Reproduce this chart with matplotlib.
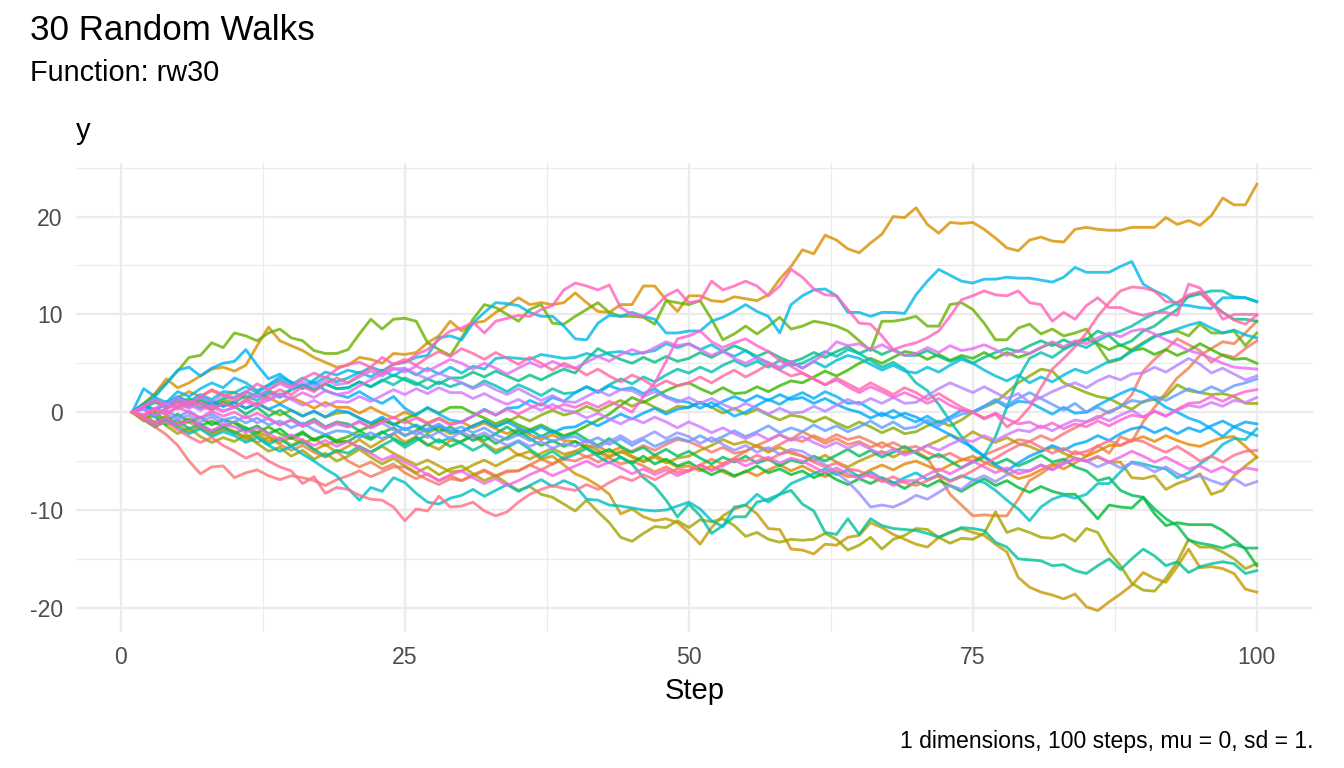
import numpy as np
import matplotlib
matplotlib.use("Agg")
import matplotlib.pyplot as plt

# ---------------- data ----------------
steps = list(range(1, 101))

walk_01 = [0, -0.8, -1.5, -2.3, -3.4, -5.0, -6.3, -5.6, -5.5, -6.7,
           -6.2, -5.9, -6.5, -6.9, -6.5, -6.7, -7.0, -7.5, -6.9, -6.5,
           -6.0, -6.6, -6.1, -5.6, -5.6, -6.3, -6.9, -7.4, -6.8, -7.0,
           -6.5, -6.0, -6.6, -6.1, -6.0, -5.4, -5.9, -5.3, -4.8, -5.0,
           -4.5, -5.1, -4.6, -4.1, -4.0, -3.4, -3.9, -3.3, -2.8, -3.0,
           -3.5, -4.1, -3.6, -4.2, -4.0, -3.4, -3.9, -3.3, -2.7, -3.0,
           -2.4, -2.9, -2.3, -2.8, -2.5, -3.0, -3.6, -3.1, -3.7, -3.5,
           -4.1, -4.6, -4.2, -4.8, -5.0, -4.4, -3.9, -3.4, -2.8, -3.0,
           -2.4, -2.9, -2.2, -1.6, -1.0, -0.6, 0.1, 0.5, 1.8, 4.2,
           5.4, 6.4, 7.5, 6.9, 6.3, 5.1, 5.9, 5.6, 6.5, 7.3]
walk_02 = [0, -0.5, -1.2, -0.7, -1.4, -1.0, -1.7, -2.2, -1.6, -2.0,
           -2.6, -3.1, -2.6, -3.3, -3.9, -3.4, -4.1, -4.6, -4.0, -5.0,
           -5.6, -5.1, -5.8, -5.3, -6.2, -6.8, -6.3, -7.0, -6.5, -7.0,
           -6.4, -5.9, -6.5, -6.0, -6.0, -5.4, -4.8, -5.3, -4.6, -4.0,
           -4.6, -4.1, -4.7, -5.3, -5.0, -5.5, -6.1, -5.6, -6.2, -6.0,
           -5.4, -4.8, -5.3, -4.7, -4.0, -3.4, -2.9, -2.3, -2.8, -2.0,
           -2.6, -3.2, -2.7, -3.3, -3.0, -3.6, -3.1, -3.7, -4.2, -4.0,
           -4.7, -6.5, -8.4, -9.5, -10.6, -10.5, -10.6, -10.6, -8.9, -7.0,
           -6.3, -5.5, -5.0, -4.0, -4.5, -3.4, -4.2, -2.5, -3.0, -1.0,
           0.5, 2.0, 3.5, 4.5, 5.8, 6.5, 7.2, 7.0, 8.1, 9.3]
walk_03 = [0, 0.6, 1.3, 0.8, 1.5, 2.1, 1.6, 2.2, 1.7, 2.0,
           1.4, 2.0, 1.5, 0.9, 1.5, 1.0, 0.4, 1.0, 0.5, 0.5,
           -0.1, 0.5, -0.1, -0.6, 0.0, -0.5, -1.1, -0.6, -1.2, -1.0,
           -1.6, -1.1, -1.7, -2.2, -1.7, -2.3, -2.8, -2.3, -2.9, -3.0,
           -3.5, -3.5, -4.1, -3.6, -4.5, -5.0, -4.4, -5.0, -5.6, -5.5,
           -6.0, -5.5, -6.1, -6.6, -6.0, -6.5, -5.9, -5.4, -6.0, -5.5,
           -6.1, -6.6, -6.0, -6.6, -6.5, -5.9, -5.4, -5.9, -5.3, -5.0,
           -5.5, -6.0, -5.4, -4.9, -4.5, -5.1, -5.6, -6.2, -6.8, -6.5,
           -5.9, -5.3, -5.8, -5.2, -4.5, -4.0, -3.4, -3.4, -2.9, -2.5,
           -3.0, -2.4, -2.9, -3.3, -3.5, -3.0, -2.6, -2.5, -3.5, -4.6]
walk_04 = [0, 0.8, 1.9, 3.4, 2.5, 3.0, 3.7, 4.4, 4.6, 4.2,
           4.8, 6.8, 8.7, 7.3, 6.8, 6.3, 5.6, 5.1, 4.6, 4.8,
           5.6, 5.4, 5.0, 6.0, 5.9, 6.1, 7.1, 7.8, 9.3, 8.3,
           9.1, 9.3, 10.2, 10.9, 11.7, 11.0, 11.2, 11.0, 11.2, 12.2,
           11.2, 10.3, 10.2, 11.0, 11.0, 12.9, 12.9, 11.5, 10.3, 11.9,
           11.9, 11.4, 11.3, 11.8, 11.6, 11.4, 12.0, 13.6, 14.9, 16.6,
           16.2, 18.1, 17.6, 16.7, 16.3, 17.3, 18.2, 20.0, 19.9, 20.9,
           19.2, 18.3, 19.4, 19.3, 19.4, 18.7, 17.8, 16.8, 16.5, 17.6,
           17.9, 17.5, 17.4, 18.7, 18.9, 18.7, 18.6, 18.6, 18.9, 18.9,
           18.9, 19.9, 19.2, 19.6, 19.1, 20.1, 21.9, 21.2, 21.2, 23.3]
walk_05 = [0, -0.6, -1.1, -0.4, -1.3, -2.0, -1.5, -2.3, -1.8, -2.0,
           -2.9, -2.2, -3.0, -2.6, -3.4, -2.8, -3.9, -3.3, -4.1, -3.5,
           -2.8, -3.6, -2.9, -2.2, -3.1, -2.5, -3.3, -3.8, -2.9, -3.0,
           -2.4, -3.2, -3.9, -3.5, -4.4, -4.0, -4.8, -4.5, -5.4, -6.3,
           -6.8, -7.5, -8.4, -10.4, -9.9, -10.7, -11.1, -10.9, -11.3, -12.3,
           -13.5, -11.8, -10.6, -9.9, -9.5, -10.4, -11.9, -12.0, -14.0, -14.1,
           -14.5, -13.5, -13.6, -12.8, -12.6, -11.3, -11.8, -12.5, -13.0, -13.5,
           -13.8, -12.8, -12.3, -11.9, -12.3, -12.6, -13.5, -14.3, -16.9, -17.9,
           -18.4, -18.7, -19.1, -18.6, -19.9, -20.3, -19.4, -18.6, -17.7, -16.4,
           -17.0, -17.4, -15.8, -14.0, -15.9, -15.8, -16.0, -16.5, -18.1, -18.4]
walk_06 = [0, -0.4, -1.0, -0.5, -1.2, -0.7, -1.3, -1.9, -1.5, -2.0,
           -2.6, -2.0, -2.5, -3.1, -2.6, -3.2, -2.7, -3.4, -2.9, -3.0,
           -3.6, -4.1, -3.5, -4.2, -4.8, -5.4, -4.9, -5.5, -6.1, -6.0,
           -5.4, -4.9, -5.5, -4.9, -4.3, -4.8, -4.2, -3.7, -4.3, -4.0,
           -3.4, -3.9, -4.5, -4.0, -4.6, -5.1, -4.6, -5.2, -4.7, -4.5,
           -3.9, -3.4, -2.8, -3.3, -3.0, -3.5, -4.1, -3.6, -4.2, -4.5,
           -5.0, -4.4, -5.1, -5.6, -5.0, -4.5, -4.0, -4.6, -4.0, -4.0,
           -3.4, -2.9, -2.3, -2.8, -2.0, -2.6, -3.1, -2.6, -3.2, -3.5,
           -4.0, -3.6, -4.2, -4.7, -5.0, -4.6, -5.1, -5.1, -6.7, -6.8,
           -6.5, -7.9, -7.3, -6.9, -6.3, -8.4, -8.0, -6.5, -5.5, -4.6]
walk_07 = [0, -0.9, -0.3, -1.4, -2.2, -1.6, -2.5, -3.1, -2.6, -3.0,
           -2.3, -3.2, -4.0, -3.6, -4.5, -3.9, -4.8, -4.2, -5.0, -4.5,
           -3.8, -4.6, -5.3, -4.7, -5.5, -6.2, -5.6, -6.4, -5.8, -5.5,
           -6.3, -7.0, -6.5, -7.3, -8.0, -7.6, -8.4, -8.7, -9.4, -10.1,
           -9.0, -10.2, -11.3, -12.8, -13.2, -12.4, -11.7, -11.8, -11.1, -11.8,
           -11.0, -11.2, -10.9, -11.6, -12.7, -12.3, -13.0, -13.3, -13.0, -13.1,
           -13.0, -12.4, -13.0, -14.1, -13.6, -12.8, -14.0, -13.0, -12.6, -11.9,
           -12.0, -12.8, -13.4, -12.9, -13.0, -12.4, -10.2, -12.3, -11.9, -12.3,
           -12.8, -12.9, -12.5, -13.2, -11.9, -12.3, -14.3, -15.7, -17.5, -18.2,
           -18.3, -17.0, -15.3, -13.0, -13.8, -13.8, -14.3, -15.0, -16.0, -15.5]
walk_08 = [0, 0.5, -0.2, 0.4, 1.0, 0.5, 1.1, 0.6, 1.2, 1.0,
           0.4, 0.9, 0.3, -0.3, 0.2, -0.4, 0.1, -0.5, -0.1, 0.0,
           -0.6, -1.2, -0.7, -1.3, -0.8, -1.5, -2.1, -1.6, -2.2, -2.0,
           -1.4, -0.9, -1.5, -1.0, -0.4, -0.9, -0.3, 0.2, -0.3, 0.0,
           0.6, 0.1, 0.7, 1.2, 0.6, 1.1, 0.5, 0.0, 0.6, 0.5,
           1.0, 0.5, -0.1, 0.4, -0.2, 0.3, -0.3, -0.8, -0.3, -0.5,
           -1.0, -0.5, -1.1, -1.6, -1.0, -1.5, -2.1, -1.6, -2.2, -2.0,
           -1.4, -0.9, -1.4, -0.8, 0.0, 0.5, 1.0, 2.0, 3.0, 3.7,
           4.4, 4.2, 3.0, 2.5, 2.0, 1.6, 1.4, 0.8, 0.3, 1.1,
           1.3, 1.6, 2.8, 2.2, 2.0, 1.8, 1.9, 1.6, 0.9, 0.9]
walk_09 = [0, 0.9, 1.8, 3.0, 4.2, 5.6, 5.8, 7.1, 6.6, 8.1,
           7.8, 7.3, 8.1, 8.5, 7.6, 7.3, 6.3, 6.0, 6.0, 6.4,
           8.0, 9.5, 8.5, 9.5, 9.6, 9.3, 7.1, 6.4, 5.8, 7.6,
           9.5, 11.0, 10.7, 10.0, 9.3, 10.5, 11.0, 9.1, 9.0, 9.8,
           10.5, 11.2, 10.2, 9.8, 9.8, 9.7, 9.0, 11.4, 11.2, 11.0,
           11.4, 9.5, 7.4, 8.0, 8.8, 8.0, 8.8, 9.7, 8.5, 8.8,
           9.3, 9.1, 8.8, 8.3, 7.3, 6.3, 9.3, 9.3, 9.5, 9.8,
           8.8, 8.8, 11.0, 11.2, 10.5, 9.1, 7.4, 7.4, 8.6, 9.0,
           8.0, 8.5, 7.8, 8.1, 8.5, 6.8, 5.1, 5.4, 6.4, 7.1,
           7.8, 8.1, 8.3, 7.8, 9.0, 8.1, 8.1, 8.3, 6.8, 8.1]
walk_10 = [0, -0.6, -0.1, -0.8, -1.3, -0.7, -1.4, -0.9, -1.5, -1.0,
           -1.6, -2.1, -1.5, -2.2, -2.7, -2.2, -2.8, -2.3, -2.9, -2.5,
           -1.9, -1.4, -0.8, -1.3, -0.7, -0.2, 0.4, -0.1, 0.5, 0.5,
           -0.1, -0.6, -1.2, -0.7, -1.3, -1.8, -1.3, -1.9, -2.4, -2.0,
           -1.4, -0.8, -0.2, 0.7, 1.5, 1.0, 1.6, 2.2, 2.7, 3.0,
           2.4, 1.9, 2.5, 1.9, 2.0, 2.6, 2.1, 2.7, 3.2, 3.0,
           3.6, 4.2, 3.7, 4.3, 5.0, 5.5, 5.0, 5.6, 6.2, 6.0,
           5.4, 5.9, 5.3, 5.8, 5.5, 6.1, 5.5, 6.1, 5.6, 6.0,
           6.6, 7.1, 6.5, 7.2, 7.5, 7.0, 6.4, 6.9, 6.3, 6.5,
           5.9, 6.4, 5.8, 6.3, 7.0, 6.4, 5.8, 5.4, 5.5, 5.0]
walk_11 = [0, -0.7, -1.5, -0.9, -0.2, -1.0, -0.5, -1.3, -0.8, -1.1,
           -1.9, -1.4, -2.2, -1.7, -2.6, -2.0, -2.9, -2.4, -3.1, -3.0,
           -2.3, -2.8, -2.1, -1.6, -2.4, -1.9, -1.2, -2.0, -1.5, -2.2,
           -2.9, -2.4, -3.2, -2.6, -1.9, -2.7, -3.4, -2.9, -3.5, -3.0,
           -3.7, -4.3, -3.8, -4.6, -5.2, -4.5, -5.3, -4.8, -5.5, -5.1,
           -5.8, -6.4, -5.9, -6.5, -6.1, -5.5, -6.2, -5.8, -6.4, -6.0,
           -6.7, -6.2, -6.9, -7.4, -6.8, -7.3, -6.7, -7.2, -7.8, -7.1,
           -7.6, -7.0, -7.5, -8.1, -7.4, -6.8, -7.5, -7.0, -7.7, -8.2,
           -7.6, -8.1, -8.4, -8.4, -9.6, -10.9, -9.5, -9.7, -9.8, -8.7,
           -10.4, -11.6, -11.3, -11.5, -11.5, -11.5, -12.1, -13.0, -14.0, -15.7]
walk_12 = [0, 0.8, 0.2, 1.1, 0.5, 1.4, 0.9, 0.3, 1.0, 0.6,
           -0.2, 0.5, -0.4, 0.2, -0.6, -1.3, -0.7, -1.5, -1.0, -1.2,
           -1.9, -2.6, -2.0, -2.7, -3.3, -2.6, -3.4, -2.8, -3.5, -3.0,
           -2.3, -2.9, -2.2, -1.5, -2.3, -1.8, -2.5, -1.9, -2.6, -2.1,
           -2.8, -3.4, -2.7, -3.5, -4.1, -3.6, -4.4, -3.8, -4.5, -4.0,
           -4.7, -5.3, -4.6, -5.1, -4.5, -5.2, -4.8, -5.5, -4.9, -5.2,
           -4.5, -5.0, -4.4, -3.8, -4.5, -3.9, -4.6, -4.1, -3.5, -4.2,
           -4.8, -4.3, -5.0, -5.7, -5.1, -4.6, -5.3, -4.8, -5.5, -5.0,
           -4.4, -5.1, -4.8, -5.6, -6.0, -7.0, -6.7, -8.0, -8.5, -8.7,
           -9.9, -10.9, -11.6, -13.1, -13.4, -13.6, -13.9, -13.5, -13.9, -13.9]
walk_13 = [0, 0.4, 1.0, 0.5, 1.2, 0.7, 1.3, 0.8, 1.4, 1.5,
           2.1, 1.6, 2.2, 1.7, 2.3, 2.8, 2.3, 2.9, 2.4, 2.5,
           3.1, 2.6, 3.2, 3.8, 3.3, 2.8, 3.4, 2.9, 3.5, 3.5,
           4.1, 3.6, 4.2, 3.7, 3.2, 3.8, 3.3, 3.9, 4.4, 4.0,
           5.4, 6.5, 5.9, 5.4, 5.0, 5.6, 5.1, 5.7, 5.2, 5.5,
           6.1, 5.6, 6.2, 6.8, 6.3, 5.7, 6.2, 5.6, 5.1, 5.5,
           6.1, 5.6, 6.2, 6.7, 6.0, 6.5, 5.9, 6.4, 5.8, 5.8,
           6.3, 5.7, 5.2, 5.6, 5.0, 5.6, 6.1, 6.5, 6.2, 6.8,
           7.3, 6.8, 7.4, 6.9, 7.4, 8.3, 7.8, 6.8, 7.3, 8.3,
           8.8, 9.7, 10.5, 11.9, 12.2, 11.2, 10.2, 9.5, 9.5, 9.3]
walk_14 = [0, 0.4, -0.5, -1.3, -0.8, -1.7, -1.2, -2.0, -1.5, -2.2,
           -1.6, -2.5, -3.3, -2.7, -3.5, -3.0, -3.8, -4.5, -3.9, -4.2,
           -3.5, -4.1, -3.4, -2.8, -3.6, -2.9, -2.3, -3.1, -2.6, -3.2,
           -3.9, -3.3, -4.2, -3.6, -3.0, -3.8, -4.6, -4.0, -4.8, -4.3,
           -3.7, -4.5, -5.2, -4.6, -5.3, -6.7, -7.6, -9.0, -10.7, -9.4,
           -10.6, -12.4, -11.6, -10.7, -10.7, -9.2, -8.9, -8.4, -8.0, -9.4,
           -10.1, -12.3, -12.5, -10.9, -12.5, -10.9, -11.6, -11.9, -12.0, -12.1,
           -12.4, -12.8, -12.3, -11.8, -11.9, -12.1, -13.3, -13.8, -15.0, -15.1,
           -15.2, -15.7, -15.6, -16.2, -16.5, -15.7, -15.0, -16.1, -15.0, -14.0,
           -14.7, -15.7, -15.3, -16.4, -15.8, -15.5, -15.3, -15.5, -16.5, -16.2]
walk_15 = [0, 0.5, 1.2, 0.7, 1.5, 1.0, 0.4, 1.1, 0.6, 1.0,
           1.7, 1.2, 2.0, 1.5, 2.3, 2.8, 2.2, 2.9, 2.4, 2.5,
           3.1, 2.6, 3.3, 2.8, 3.5, 3.0, 2.4, 3.1, 2.6, 3.0,
           2.5, 3.2, 2.7, 2.1, 2.8, 2.3, 1.7, 2.4, 1.9, 2.0,
           2.6, 2.1, 2.8, 3.4, 2.9, 3.6, 3.1, 3.8, 4.4, 4.0,
           4.6, 4.1, 4.8, 5.3, 4.7, 5.2, 4.6, 5.3, 4.8, 5.0,
           5.6, 6.2, 5.7, 6.4, 6.0, 5.3, 4.6, 5.1, 4.4, 3.0,
           2.2, 0.8, -0.9, -2.5, -3.8, -4.5, -2.5, 0.5, 3.5, 5.5,
           6.1, 5.6, 6.4, 7.0, 6.6, 7.3, 7.9, 8.3, 8.8, 9.5,
           10.1, 10.6, 11.2, 11.8, 12.1, 12.4, 12.4, 11.8, 11.7, 11.3]
walk_16 = [0, -0.6, -1.3, -0.8, -1.6, -2.2, -1.7, -2.5, -2.0, -2.4,
           -3.1, -2.6, -3.4, -4.0, -3.5, -4.3, -5.0, -5.8, -6.5, -7.8,
           -9.0, -7.7, -8.1, -6.7, -7.2, -8.3, -9.2, -9.4, -8.8, -8.5,
           -7.9, -8.6, -8.0, -7.4, -8.1, -7.5, -6.9, -7.6, -7.0, -7.5,
           -8.9, -9.0, -9.5, -9.6, -9.8, -10.0, -10.1, -10.0, -9.6, -9.2,
           -9.9, -11.1, -11.7, -9.7, -9.5, -8.4, -9.2, -8.4, -7.3, -6.8,
           -6.3, -5.8, -6.4, -5.9, -6.6, -6.1, -6.8, -7.3, -6.7, -6.2,
           -6.9, -6.4, -7.0, -6.5, -6.9, -7.2, -8.0, -9.0, -9.9, -11.1,
           -9.7, -8.9, -8.5, -8.8, -8.4, -7.3, -7.3, -6.1, -5.1, -5.3,
           -5.6, -5.8, -6.7, -6.2, -5.3, -4.5, -3.3, -2.7, -2.8, -1.7]
walk_17 = [0, 0.7, 0.2, 0.9, 1.6, 1.1, 1.8, 1.3, 2.1, 2.0,
           2.6, 2.0, 2.7, 3.3, 2.8, 3.5, 2.9, 3.6, 3.1, 3.5,
           4.1, 3.6, 4.3, 3.7, 4.4, 3.8, 4.5, 3.9, 4.6, 4.0,
           4.7, 4.4, 5.5, 5.6, 5.5, 5.4, 5.9, 5.7, 5.5, 5.6,
           6.0, 5.7, 6.1, 6.2, 5.9, 6.1, 6.3, 7.0, 6.6, 7.0,
           6.4, 6.9, 6.2, 5.7, 6.3, 5.5, 5.0, 4.4, 5.1, 4.5,
           5.2, 4.6, 5.3, 5.8, 5.5, 4.9, 4.3, 4.8, 4.2, 4.0,
           4.6, 4.1, 4.8, 5.4, 5.0, 4.3, 3.7, 3.2, 3.8, 3.0,
           3.6, 3.1, 3.8, 4.4, 4.0, 4.6, 5.2, 5.5, 6.2, 7.0,
           7.7, 8.1, 8.5, 8.9, 9.2, 8.6, 8.1, 8.4, 7.9, 7.6]
walk_18 = [0, 0.8, 1.5, 1.0, 2.1, 1.6, 2.4, 3.0, 2.5, 3.5,
           3.0, 2.2, 2.8, 3.6, 3.1, 2.5, 3.3, 4.1, 3.8, 4.3,
           4.0, 4.6, 4.2, 4.9, 5.1, 5.6, 5.8, 7.6, 7.8, 7.4,
           9.1, 10.2, 11.2, 11.1, 10.9, 10.2, 9.8, 9.8, 8.8, 7.5,
           7.4, 9.1, 9.9, 9.8, 10.2, 9.8, 9.5, 8.1, 8.1, 8.3,
           8.3, 9.3, 9.7, 10.3, 11.0, 10.3, 9.8, 8.1, 11.0, 11.9,
           12.5, 12.6, 11.9, 10.2, 10.2, 9.8, 10.2, 10.2, 10.1, 12.0,
           13.4, 14.6, 14.0, 13.4, 13.2, 13.6, 13.6, 13.8, 13.7, 13.7,
           13.5, 13.3, 13.8, 14.8, 14.3, 14.3, 14.3, 14.9, 15.4, 13.1,
           12.4, 11.9, 11.0, 10.9, 10.7, 10.6, 11.7, 11.7, 11.7, 11.3]
walk_19 = [0, 2.4, 1.6, 2.9, 4.3, 4.6, 3.7, 4.5, 5.0, 5.2,
           6.4, 4.8, 3.4, 3.9, 3.0, 2.4, 3.1, 2.2, 1.8, 1.5,
           2.1, 1.4, 0.9, 1.6, 0.4, -0.3, 0.5, -0.2, -0.8, -1.0,
           -0.4, 0.3, -0.3, 0.4, 0.5, 1.2, 0.7, 1.5, 1.1, 2.0,
           2.6, 2.0, 2.7, 2.3, 2.5, 1.9, 2.4, 1.6, 1.2, 1.0,
           0.4, 1.0, 0.3, -0.4, 0.0, 0.7, 1.3, 0.8, 1.5, 2.0,
           1.4, 2.1, 1.6, 0.9, 1.0, 0.3, -0.4, 0.2, -0.5, -1.0,
           -0.4, -1.1, -0.5, 0.2, 0.0, 0.6, 1.2, 0.5, 1.1, 1.0,
           0.4, -0.2, 0.5, -0.1, 0.0, 0.7, 1.3, 1.9, 2.4, 2.0,
           1.3, 0.5, 0.0, -0.6, -1.0, -1.7, -2.5, -1.5, -2.0, -2.4]
walk_20 = [0, 0.7, 0.2, 0.9, 1.5, 1.0, 1.6, 1.1, 0.6, 1.0,
           0.4, 0.9, 0.3, 0.8, 0.2, -0.4, 0.1, -0.5, 0.2, 0.0,
           -0.6, -1.1, -0.5, -1.2, -1.8, -1.3, -1.9, -1.4, -2.0, -2.0,
           -1.4, -0.9, -1.5, -1.0, -1.6, -2.1, -1.5, -2.1, -1.6, -1.5,
           -0.9, -1.4, -0.8, -0.2, -0.7, -0.1, 0.4, -0.2, 0.3, 0.5,
           1.0, 0.5, 1.1, 1.6, 1.1, 1.7, 1.2, 1.8, 1.3, 1.5,
           0.9, 1.4, 0.8, 0.3, 0.0, -0.6, -0.1, -0.6, -0.1, -0.5,
           -1.1, -1.7, -2.3, -3.0, -3.6, -4.5, -5.4, -6.0, -5.2, -4.5,
           -4.0, -3.4, -3.9, -3.3, -3.0, -2.4, -2.9, -2.2, -1.7, -1.5,
           -2.1, -1.6, -2.2, -1.6, -2.0, -1.4, -0.9, -1.5, -1.0, -1.2]
walk_21 = [0, 0.3, -0.4, 0.2, -0.5, 0.1, -0.6, -0.2, -0.8, -0.5,
           -1.1, -0.6, -1.3, -0.9, -1.6, -1.1, -1.8, -2.3, -1.9, -2.0,
           -2.6, -2.1, -2.7, -2.2, -1.6, -2.3, -1.7, -1.2, -1.9, -1.5,
           -2.1, -1.6, -2.3, -2.8, -2.3, -2.9, -2.4, -3.0, -2.6, -2.5,
           -3.1, -2.6, -3.3, -2.7, -3.4, -2.8, -3.5, -3.0, -2.6, -3.0,
           -2.4, -3.0, -2.5, -1.9, -2.5, -2.0, -1.4, -2.1, -1.6, -2.0,
           -1.3, -1.9, -1.4, -2.0, -1.5, -0.9, -1.6, -1.0, -1.7, -1.5,
           -0.8, -1.4, -0.7, -0.2, 0.0, 0.6, 1.3, 0.7, 1.4, 2.0,
           1.4, 0.8, 0.2, 0.9, 0.0, 0.5, -0.1, 0.6, 1.2, 1.0,
           1.6, 1.2, 1.8, 2.4, 2.0, 2.6, 2.1, 2.7, 3.0, 3.4]
walk_22 = [0, -0.4, 0.3, -0.2, -0.8, -0.3, -1.0, -0.5, -1.2, -1.0,
           -0.4, -1.1, -0.6, -1.3, -0.8, -1.5, -1.0, -1.7, -1.2, -1.5,
           -0.9, -1.6, -1.1, -1.8, -2.4, -1.9, -2.6, -2.0, -2.7, -2.0,
           -2.6, -2.1, -2.8, -3.4, -2.9, -3.5, -3.0, -3.7, -3.2, -3.5,
           -2.9, -3.6, -3.0, -2.4, -3.1, -2.6, -2.0, -2.7, -2.1, -2.5,
           -3.2, -2.6, -3.3, -3.9, -3.4, -4.1, -3.6, -4.3, -3.8, -4.0,
           -4.7, -5.4, -6.2, -7.1, -8.3, -9.7, -9.5, -9.7, -9.2, -8.5,
           -8.9, -8.2, -7.5, -7.9, -7.0, -6.5, -7.1, -6.4, -5.9, -6.0,
           -5.4, -5.9, -5.2, -4.7, -5.0, -5.6, -5.1, -5.7, -5.2, -5.5,
           -6.1, -5.6, -6.3, -6.8, -6.5, -7.0, -7.4, -6.8, -7.5, -7.1]
walk_23 = [0, 0.6, 1.3, 0.8, 1.5, 0.9, 1.6, 1.1, 1.8, 1.5,
           2.1, 1.6, 2.3, 2.9, 2.4, 3.1, 2.6, 3.3, 2.8, 3.0,
           3.6, 4.2, 3.7, 4.4, 4.5, 3.9, 3.4, 4.0, 3.5, 3.0,
           2.4, 2.9, 2.3, 1.8, 2.4, 1.8, 1.2, 1.7, 1.1, 1.0,
           1.6, 2.2, 1.7, 2.3, 2.2, 1.6, 2.1, 1.5, 1.0, 1.5,
           0.9, 1.4, 0.8, 0.3, 0.9, 0.4, -0.2, 0.4, -0.1, 0.0,
           0.6, 0.1, 0.7, 1.3, 0.8, 1.4, 0.9, 1.5, 0.9, 1.0,
           1.7, 2.4, 3.0, 2.5, 2.0, 2.6, 2.0, 1.4, 1.9, 1.0,
           1.5, 2.1, 2.6, 3.0, 2.5, 3.2, 3.7, 3.3, 3.9, 4.0,
           4.6, 4.1, 4.8, 5.5, 4.9, 4.0, 4.5, 3.9, 3.3, 3.7]
walk_24 = [0, -0.3, 0.4, 0.9, 0.3, 0.8, 0.2, 0.7, 0.1, 0.5,
           1.1, 1.7, 1.2, 1.8, 1.3, 0.7, 1.2, 0.6, 1.1, 1.0,
           1.6, 1.1, 1.7, 2.3, 1.8, 2.4, 1.9, 2.5, 2.0, 2.0,
           1.4, 1.9, 1.3, 0.8, 1.3, 0.7, 0.2, 0.8, 0.2, 0.0,
           -0.6, -0.1, -0.7, -1.2, -0.6, -1.1, -0.5, -1.0, -1.6, -1.0,
           -1.5, -2.1, -1.6, -2.2, -2.7, -2.2, -2.8, -2.3, -2.9, -2.5,
           -3.1, -3.6, -3.1, -3.7, -3.2, -3.8, -4.3, -3.8, -4.4, -4.0,
           -3.4, -3.9, -3.3, -2.8, -3.0, -2.4, -2.9, -2.3, -1.8, -2.0,
           -1.4, -1.9, -1.3, -0.8, -1.0, -0.4, -0.9, -0.3, 0.2, -0.5,
           0.1, -0.4, 0.2, 0.7, 0.5, 1.0, 0.6, 1.2, 1.0, 1.5]
walk_25 = [0, 0.4, -0.3, 0.3, 0.9, 0.4, 1.0, 0.5, 0.1, 0.5,
           1.1, 0.6, 1.3, 1.9, 1.4, 2.0, 1.5, 2.2, 1.8, 2.0,
           2.7, 3.3, 3.9, 4.5, 4.1, 4.7, 4.2, 4.8, 5.4, 5.0,
           4.4, 5.0, 4.5, 3.9, 4.5, 5.1, 4.6, 5.2, 4.7, 4.5,
           5.1, 5.7, 5.2, 5.9, 6.4, 6.0, 6.6, 7.2, 6.8, 7.0,
           6.4, 5.8, 6.3, 5.5, 5.0, 5.6, 5.1, 4.6, 5.2, 4.5,
           5.2, 6.0, 7.2, 6.8, 7.0, 6.4, 6.9, 6.3, 5.8, 6.0,
           6.6, 6.1, 6.8, 6.3, 6.5, 6.9, 6.4, 5.8, 6.3, 6.0,
           6.6, 7.2, 6.7, 7.3, 7.0, 7.6, 8.1, 7.7, 8.3, 8.5,
           8.0, 7.4, 6.9, 6.3, 6.0, 5.5, 5.0, 4.6, 4.5, 4.4]
walk_26 = [0, -0.5, -1.1, -0.6, -1.3, -0.8, -1.4, -1.9, -1.3, -1.5,
           -2.1, -1.6, -2.2, -2.8, -2.3, -2.9, -3.4, -2.9, -3.5, -3.0,
           -3.6, -4.2, -4.9, -4.4, -5.1, -5.7, -6.4, -7.0, -6.4, -6.0,
           -6.7, -7.3, -6.8, -7.5, -7.0, -6.4, -5.9, -6.5, -6.0, -5.5,
           -5.0, -5.6, -5.1, -5.7, -6.3, -5.8, -6.4, -5.9, -6.5, -6.0,
           -5.4, -6.0, -5.5, -4.9, -5.5, -5.0, -4.6, -5.2, -4.7, -5.0,
           -5.6, -6.2, -5.7, -6.3, -6.8, -6.3, -6.9, -7.5, -7.0, -7.0,
           -6.4, -5.8, -6.3, -5.7, -5.0, -5.6, -6.2, -5.7, -6.3, -6.0,
           -5.4, -5.9, -5.3, -4.8, -5.0, -4.5, -5.1, -4.6, -4.0, -4.5,
           -5.1, -4.6, -5.2, -5.8, -5.5, -6.1, -5.6, -6.2, -5.7, -5.9]
walk_27 = [0, -0.3, 0.4, -0.1, 0.5, 0.0, -0.6, 0.1, -0.4, 0.0,
           -0.6, -0.1, -0.7, -1.3, -0.8, -1.4, -0.9, -1.6, -1.1, -1.5,
           -1.0, -1.6, -1.0, -0.5, -1.1, -0.6, -1.2, -0.7, -1.3, -1.0,
           -0.4, 0.2, -0.3, 0.3, -0.2, 0.4, 0.9, 0.3, 0.8, 0.5,
           1.0, 0.5, 1.1, 0.6, 0.0, 1.6, 3.0, 5.2, 7.5, 7.8,
           8.3, 7.2, 6.6, 7.1, 7.5, 6.8, 6.2, 5.3, 4.7, 4.0,
           3.4, 2.8, 3.3, 2.6, 2.0, 2.6, 2.1, 1.5, 2.0, 1.5,
           0.9, 1.4, 0.7, 0.2, 0.0, -0.6, -0.1, -0.7, -1.2, -1.0,
           -1.6, -1.1, -1.7, -1.2, -1.5, -0.9, -1.4, -0.8, -0.3, -0.5,
           0.1, -0.4, 0.3, 0.9, 1.0, 1.6, 1.1, 1.7, 2.1, 2.3]
walk_28 = [0, 0.6, 1.2, 0.4, 1.1, 0.7, 1.6, 2.3, 1.8, 1.2,
           2.0, 2.9, 2.3, 3.1, 2.6, 3.4, 4.0, 3.5, 4.4, 4.9,
           5.1, 4.6, 5.6, 4.9, 5.1, 5.9, 6.4, 7.4, 8.3, 8.6,
           9.2, 8.1, 9.3, 9.6, 9.9, 9.8, 10.5, 10.9, 12.5, 13.2,
           12.9, 12.5, 13.0, 10.7, 10.0, 9.8, 10.7, 11.9, 12.5, 11.2,
           11.4, 13.4, 12.5, 12.9, 13.4, 12.9, 11.9, 12.9, 14.6, 13.8,
           12.6, 12.0, 11.9, 10.5, 9.1, 9.0, 7.8, 6.4, 6.8, 7.1,
           7.6, 8.3, 9.8, 11.5, 11.9, 12.4, 12.0, 11.9, 12.4, 11.2,
           11.0, 9.3, 10.2, 9.5, 10.9, 11.7, 10.7, 10.7, 10.2, 9.9,
           10.2, 10.2, 9.9, 13.1, 12.7, 11.4, 9.5, 10.0, 10.0, 10.0]
walk_29 = [0, -0.5, 0.3, -0.3, 0.6, 1.2, 0.7, 0.2, 0.9, 0.5,
           1.3, 0.8, 1.7, 2.3, 1.8, 2.6, 2.1, 2.9, 3.5, 3.0,
           3.8, 4.5, 4.0, 4.9, 5.4, 4.8, 5.6, 6.2, 5.7, 6.5,
           6.0, 5.4, 6.1, 5.5, 4.9, 5.6, 5.0, 4.3, 5.0, 4.5,
           3.8, 4.4, 3.7, 3.1, 3.8, 3.3, 2.6, 3.2, 2.7, 3.0,
           3.6, 3.0, 3.7, 4.3, 3.6, 4.2, 4.9, 4.3, 3.7, 4.0,
           3.4, 2.8, 3.5, 2.9, 2.3, 3.0, 2.4, 1.8, 2.5, 2.0,
           1.3, 1.9, 1.2, 0.5, 0.0, -0.7, -0.2, -1.5, -0.8, 0.5,
           2.5, 4.4, 5.5, 6.7, 8.1, 9.8, 11.2, 12.4, 12.8, 12.7,
           12.4, 11.3, 11.2, 12.0, 12.3, 11.0, 10.2, 9.4, 9.0, 9.9]
walk_30 = [0, -0.7, -1.4, -1.0, -1.8, -2.5, -3.1, -2.6, -3.4, -4.0,
           -4.7, -4.2, -5.0, -5.6, -6.0, -7.3, -6.6, -8.3, -7.7, -7.9,
           -8.5, -8.9, -9.0, -9.7, -11.1, -9.9, -10.1, -8.6, -9.7, -9.6,
           -9.2, -10.1, -10.6, -10.2, -9.2, -8.4, -7.9, -7.5, -7.8, -8.0,
           -7.4, -7.9, -7.2, -6.6, -7.0, -6.4, -6.9, -6.3, -5.8, -6.0,
           -5.4, -5.9, -5.3, -4.8, -5.0, -4.4, -4.9, -4.3, -4.0, -4.5,
           -5.1, -5.6, -5.2, -5.8, -6.0, -6.6, -7.1, -6.6, -7.2, -7.5,
           -7.0, -6.5, -7.1, -6.6, -6.0, -5.3, -4.7, -4.0, -3.4, -3.0,
           -3.6, -4.2, -3.7, -4.3, -4.0, -3.5, -2.9, -3.4, -2.8, -3.0,
           -3.6, -4.1, -3.5, -4.2, -5.0, -4.5, -5.1, -4.4, -4.0, -3.9]

walks = [walk_01, walk_02, walk_03, walk_04, walk_05, walk_06, walk_07, walk_08,
         walk_09, walk_10, walk_11, walk_12, walk_13, walk_14, walk_15, walk_16,
         walk_17, walk_18, walk_19, walk_20, walk_21, walk_22, walk_23, walk_24,
         walk_25, walk_26, walk_27, walk_28, walk_29, walk_30]

x_ticks = [0, 25, 50, 75, 100]
y_ticks = [-20, -10, 0, 10, 20]
title = "30 Random Walks"
subtitle = "Function: rw30"
caption = "1 dimensions, 100 steps, mu = 0, sd = 1."
x_label = "Step"
y_label = "y"


# ---------------- colours (ggplot2 hue palette) ----------------
def hue_colors(n, c=100.0, l=65.0):
    hues = np.linspace(15, 375, n + 1)[:-1]
    xn, yn, zn = 0.95047, 1.0, 1.08883
    un = 4 * xn / (xn + 15 * yn + 3 * zn)
    vn = 9 * yn / (xn + 15 * yn + 3 * zn)
    m = np.array([[3.2404542, -1.5371385, -0.4985314],
                  [-0.9692660, 1.8760108, 0.0415560],
                  [0.0556434, -0.2040259, 1.0572252]])
    out = []
    for h in hues:
        hr = np.deg2rad(h)
        u, v = c * np.cos(hr), c * np.sin(hr)
        Y = yn * ((l + 16) / 116) ** 3
        up = u / (13 * l) + un
        vp = v / (13 * l) + vn
        X = Y * 9 * up / (4 * vp)
        Z = Y * (12 - 3 * up - 20 * vp) / (4 * vp)
        rgb = m @ np.array([X, Y, Z])
        rgb = np.where(rgb <= 0.0031308, 12.92 * rgb,
                       1.055 * np.power(np.clip(rgb, 0, None), 1 / 2.4) - 0.055)
        out.append(tuple(np.clip(rgb, 0, 1)))
    return out


colors = hue_colors(len(walks))

plt.rcParams["font.family"] = ["Liberation Sans", "DejaVu Sans"]

W, H = 1344, 768
fig = plt.figure(figsize=(W / 100, H / 100), dpi=100)
fig.patch.set_facecolor("white")

left, right, top, bottom = 76, 1313, 163, 632
ax = fig.add_axes([left / W, 1 - bottom / H, (right - left) / W, (bottom - top) / H])

for vals, col in zip(walks, colors):
    ax.plot(steps, vals, color=col, alpha=0.8, lw=2.05, solid_joinstyle="round")

all_vals = np.concatenate([np.asarray(w, dtype=float) for w in walks])
xmin, xmax = min(steps), max(steps)
ymin, ymax = all_vals.min(), all_vals.max()
xr, yr = xmax - xmin, ymax - ymin
ax.set_xlim(xmin - 0.05 * xr, xmax + 0.05 * xr)
ax.set_ylim(ymin - 0.05 * yr, ymax + 0.05 * yr)

ax.set_xticks(x_ticks)
ax.set_yticks(y_ticks)
ax.set_xticks([12.5, 37.5, 62.5, 87.5], minor=True)
ax.set_yticks([-15, -5, 5, 15, 25], minor=True)
ax.set_yticklabels([str(v) for v in y_ticks])
ax.grid(which="major", color="#EBEBEB", lw=1.7)
ax.grid(which="minor", color="#EBEBEB", lw=0.9)
ax.set_axisbelow(True)
for s in ax.spines.values():
    s.set_visible(False)
ax.tick_params(which="both", length=0)
ax.tick_params(axis="x", pad=10, labelsize=16.6, labelcolor="#4D4D4D")
ax.tick_params(axis="y", pad=9.5, labelsize=16.6, labelcolor="#4D4D4D")
ax.set_facecolor("white")

fig.text(30 / W, 1 - 40 / H, title, fontsize=25.2, ha="left", va="baseline", color="black")
fig.text(30 / W, 1 - 81 / H, subtitle, fontsize=20.8, ha="left", va="baseline", color="black")
fig.text(left / W, 1 - 139 / H, y_label, fontsize=21, ha="left", va="baseline", color="black")
fig.text((left + right) / 2 / W, 1 - 699 / H, x_label, fontsize=21, ha="center", va="baseline",
         color="black")
fig.text(right / W, 1 - 748 / H, caption, fontsize=16.6, ha="right", va="baseline", color="black")

fig.savefig("out.png", dpi=100, facecolor="white")
